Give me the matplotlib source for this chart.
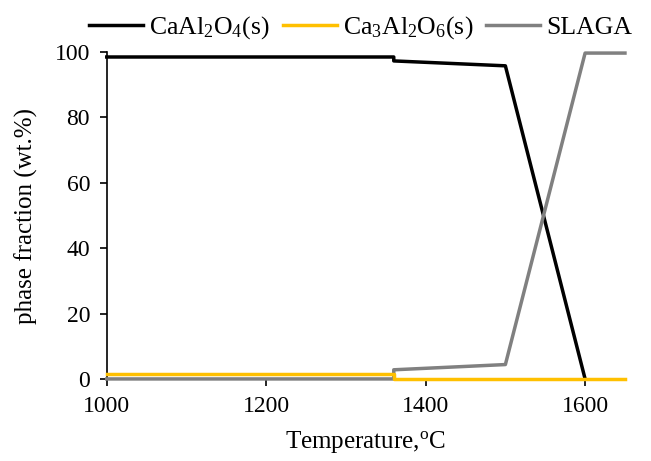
import matplotlib
matplotlib.use("Agg")
import matplotlib.pyplot as plt

plt.rcParams["font.family"] = ["Liberation Serif", "DejaVu Serif"]
plt.rcParams["mathtext.fontset"] = "custom"
plt.rcParams["mathtext.rm"] = "Liberation Serif"

temp = [1000, 1360, 1360, 1500, 1600, 1650]
caal2o4 = [98.5, 98.5, 97.3, 95.8, 0.0, float("nan")]
ca3al2o6 = [1.5, 1.5, 0.0, 0.0, 0.0, 0.0]
slaga = [0.0, 0.0, 2.8, 4.4, 99.7, 99.7]

labels = [r"CaAl$\mathregular{_2}$O$\mathregular{_4}$(s)",
          r"Ca$\mathregular{_3}$Al$\mathregular{_2}$O$\mathregular{_6}$(s)",
          "SLAGA"]

fig = plt.figure(figsize=(6.51, 4.61), dpi=100)
ax = fig.add_axes([0.164, 0.178, 0.796, 0.709])

l1, = ax.plot(temp, caal2o4, color="black", lw=2.5, clip_on=False, zorder=3)
l3, = ax.plot(temp, slaga, color="#808080", lw=2.5, clip_on=False, zorder=3)
l2, = ax.plot(temp, ca3al2o6, color="#FFC000", lw=2.5, clip_on=False, zorder=4)

ax.set_xlim(1000, 1650)
ax.set_ylim(0, 100)
ax.set_xticks([1000, 1200, 1400, 1600])
ax.set_yticks([0, 20, 40, 60, 80, 100])
ax.spines["top"].set_visible(False)
ax.spines["right"].set_visible(False)
ax.spines["left"].set_linewidth(1.2)
ax.spines["bottom"].set_linewidth(1.2)
ax.tick_params(labelsize=17, direction="out", length=5, width=1.2, pad=7)
ax.set_xlabel(r"Temperature,$\mathregular{^o}$C", fontsize=18, labelpad=9)
ax.set_ylabel("phase fraction (wt.%)", fontsize=18, labelpad=12)

ax.legend([l1, l2, l3], labels,
          loc="center", bbox_to_anchor=(0.49, 1.075), ncol=3, frameon=False,
          fontsize=18.5, handlelength=2.1, columnspacing=0.5, handletextpad=0.25,
          borderaxespad=0, borderpad=0)

fig.savefig("out.png", dpi=100)
